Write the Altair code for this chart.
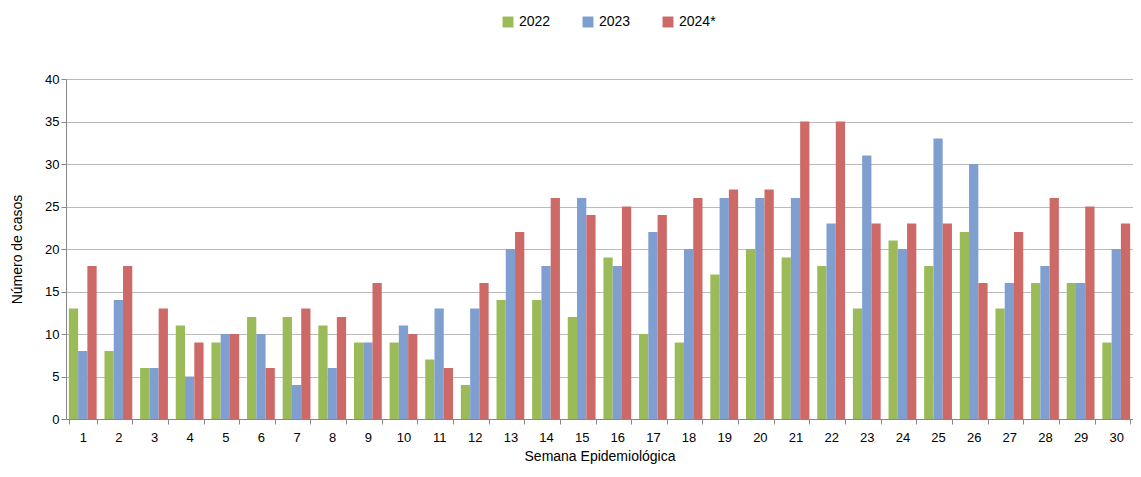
import pandas as pd
import altair as alt

weeks = list(range(1, 31))
v2022 = [13, 8, 6, 11, 9, 12, 12, 11, 9, 9, 7, 4, 14, 14, 12, 19, 10, 9, 17, 20, 19, 18, 13, 21, 18, 22, 13, 16, 16, 9]
v2023 = [8, 14, 6, 5, 10, 10, 4, 6, 9, 11, 13, 13, 20, 18, 26, 18, 22, 20, 26, 26, 26, 23, 31, 20, 33, 30, 16, 18, 16, 20]
v2024 = [18, 18, 13, 9, 10, 6, 13, 12, 16, 10, 6, 16, 22, 26, 24, 25, 24, 26, 27, 27, 35, 35, 23, 23, 23, 16, 22, 26, 25, 23]
series = ["2022", "2023", "2024*"]
colors = ["#9BBB59", "#7F9FD0", "#CD6A67"]

rows = []
for s, vals in zip(series, [v2022, v2023, v2024]):
    for w, v in zip(weeks, vals):
        rows.append({"semana": w, "serie": s, "casos": v})
df = pd.DataFrame(rows)

chart = alt.Chart(df).mark_bar().encode(
    x=alt.X("semana:O", title="Semana Epidemiológica",
            scale=alt.Scale(paddingInner=0.22, paddingOuter=0.08),
            axis=alt.Axis(labelAngle=0, tickBand="extent", labelFontSize=13, labelPadding=7,
                          titleFontSize=14, titleFontWeight="normal", titlePadding=5,
                          domainColor="#888", tickColor="#888", labelColor="#000", titleColor="#000")),
    xOffset=alt.XOffset("serie:N", sort=series),
    y=alt.Y("casos:Q", title="Número de casos",
            scale=alt.Scale(domain=[0, 40]),
            axis=alt.Axis(values=list(range(0, 41, 5)), labelFontSize=13, titleFontSize=14,
                          titleFontWeight="normal", titlePadding=20, gridColor="#BBBBBB",
                          domainColor="#888", tickColor="#888", labelColor="#000", titleColor="#000")),
    color=alt.Color("serie:N", sort=series, scale=alt.Scale(domain=series, range=colors),
                    legend=alt.Legend(title=None, orient="none", direction="horizontal",
                                      legendX=435, legendY=-64, symbolType="square",
                                      labelFontSize=14, symbolSize=120, columnPadding=30,
                                      labelColor="#000")),
).properties(
    width=1067, height=340,
    autosize=alt.AutoSizeParams(type="none"),
    padding={"left": 58, "top": 71, "right": 0, "bottom": 50},
).configure_view(stroke=None).configure(font="Liberation Sans")

chart.save("out.html", embed_options={"renderer": "svg", "actions": False})
